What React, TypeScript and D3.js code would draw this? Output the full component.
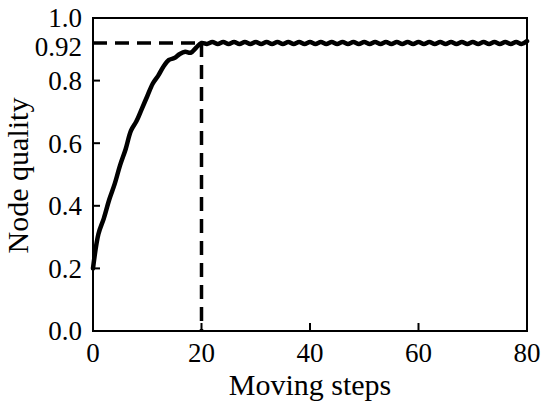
import React from "react";
import * as d3 from "d3";

const steps: number[] = Array.from({ length: 81 }, (_, i) => i);
const quality: number[] = [
  0.2, 0.31, 0.36, 0.42, 0.47, 0.53, 0.58, 0.64, 0.67, 0.71,
  0.75, 0.79, 0.815, 0.845, 0.866, 0.872, 0.885, 0.892, 0.889, 0.905,
  0.92,
  0.917, 0.923, 0.917, 0.923, 0.917, 0.923, 0.917, 0.923, 0.917, 0.923,
  0.917, 0.923, 0.917, 0.923, 0.917, 0.923, 0.917, 0.923, 0.917, 0.923,
  0.917, 0.923, 0.917, 0.923, 0.917, 0.923, 0.917, 0.923, 0.917, 0.923,
  0.917, 0.923, 0.917, 0.923, 0.917, 0.923, 0.917, 0.923, 0.917, 0.923,
  0.917, 0.923, 0.917, 0.923, 0.917, 0.923, 0.917, 0.923, 0.917, 0.923,
  0.917, 0.923, 0.917, 0.923, 0.917, 0.923, 0.917, 0.923, 0.917, 0.926,
];
const xTicks: number[] = [0, 20, 40, 60, 80];
const yTicks: number[] = [0, 0.2, 0.4, 0.6, 0.8, 0.92, 1.0];
const yTickLabels: string[] = ["0.0", "0.2", "0.4", "0.6", "0.8", "0.92", "1.0"];
const markerX = 20;
const markerY = 0.92;
const xLabel = "Moving steps";
const yLabel = "Node quality";

export default function App() {
  const W = 550, H = 410;
  const left = 93, right = 527, top = 18, bottom = 331;
  const x = d3.scaleLinear().domain([0, 80]).range([left, right]);
  const y = d3.scaleLinear().domain([0, 1]).range([bottom, top]);
  const line = d3
    .line<number>()
    .x((_, i) => x(steps[i]))
    .y((d) => y(d))
    .curve(d3.curveCatmullRom);
  const font = "'Liberation Serif', 'Times New Roman', serif";
  return (
    <svg
      width={W}
      height={H}
      style={{ position: "absolute", left: 0, top: 0, background: "#fff" }}
    >
      <rect x={0} y={0} width={W} height={H} fill="#fff" />
      <rect
        x={left}
        y={top}
        width={right - left}
        height={bottom - top}
        fill="none"
        stroke="#000"
        strokeWidth={2}
      />
      {xTicks.map((t) => (
        <g key={"xt" + t}>
          <line x1={x(t)} x2={x(t)} y1={bottom} y2={bottom - 8} stroke="#000" strokeWidth={2} />
          <text
            x={x(t)}
            y={362}
            textAnchor="middle"
            fontFamily={font}
            fontSize={27}
            fill="#000"
          >
            {t}
          </text>
        </g>
      ))}
      {yTicks.map((t, i) => (
        <g key={"yt" + t}>
          <line x1={left} x2={left + 7} y1={y(t)} y2={y(t)} stroke="#000" strokeWidth={2} />
          <text
            x={82}
            y={y(t) + (t === markerY ? 4 : 0)}
            dy="0.35em"
            textAnchor="end"
            fontFamily={font}
            fontSize={27}
            fill="#000"
          >
            {yTickLabels[i]}
          </text>
        </g>
      ))}
      <line
        x1={left}
        x2={x(markerX)}
        y1={y(markerY)}
        y2={y(markerY)}
        stroke="#000"
        strokeWidth={3.5}
        strokeDasharray="14,8"
      />
      <line
        x1={x(markerX)}
        x2={x(markerX)}
        y1={y(markerY)}
        y2={bottom}
        stroke="#000"
        strokeWidth={3.5}
        strokeDasharray="14,8"
      />
      <path
        d={line(quality) || ""}
        fill="none"
        stroke="#000"
        strokeWidth={4.5}
        strokeLinejoin="round"
        strokeLinecap="round"
      />
      <text
        x={(left + right) / 2}
        y={395}
        textAnchor="middle"
        fontFamily={font}
        fontSize={30}
        fill="#000"
      >
        {xLabel}
      </text>
      <text
        transform={`translate(28, ${(top + bottom) / 2 + 1}) rotate(-90)`}
        textAnchor="middle"
        fontFamily={font}
        fontSize={30}
        fill="#000"
      >
        {yLabel}
      </text>
    </svg>
  );
}
